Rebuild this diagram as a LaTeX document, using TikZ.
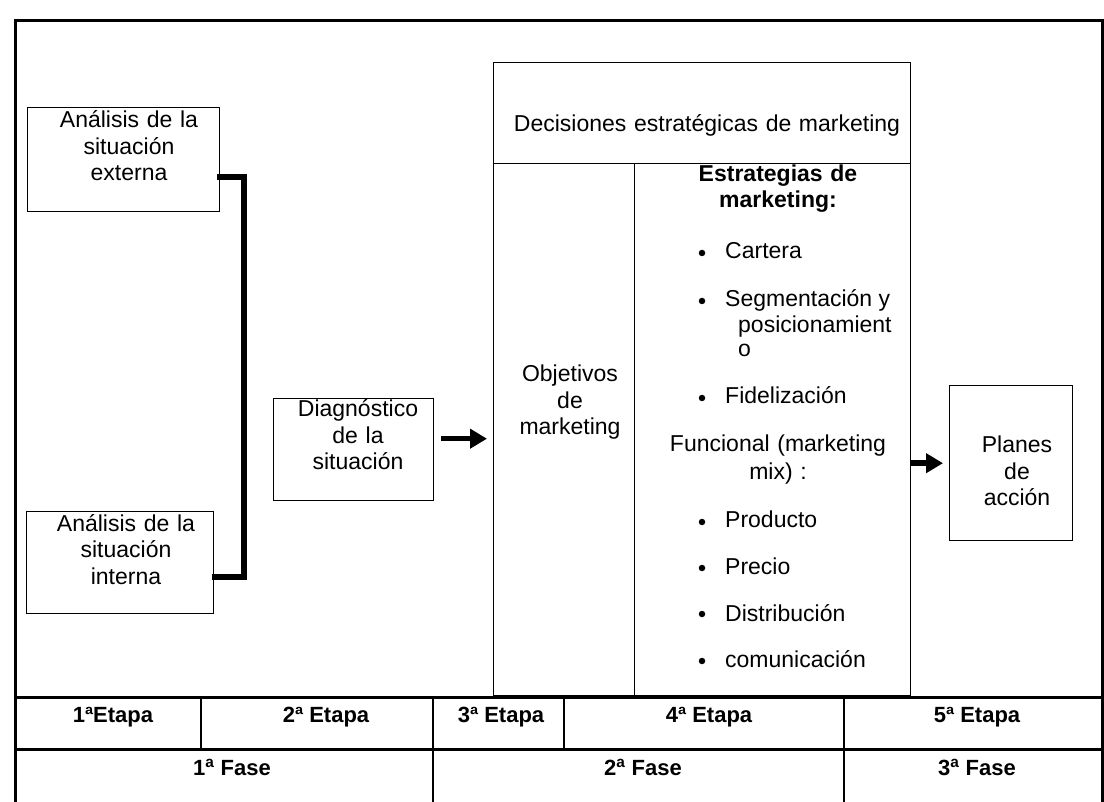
\documentclass[tikz,border=0pt]{standalone}
\usepackage{fontspec}
\setmainfont{Liberation Sans}
\usetikzlibrary{arrows.meta,calc}
\begin{document}
\begin{tikzpicture}[x=1pt,y=-1pt,
  box/.style={draw, line width=1.4pt, inner sep=0pt, anchor=north west},
  txt/.style={font=\fontsize{23}{26.5}\selectfont, align=center, text width=260pt, inner sep=0pt, anchor=base},
  itm/.style={font=\fontsize{23}{26}\selectfont, inner sep=0pt, anchor=base west},
  bul/.style={circle, fill, inner sep=0pt, minimum size=6.5pt},
  cell/.style={font=\bfseries\fontsize{22}{25}\selectfont, inner sep=0pt, anchor=base},
  bigarrow/.style={line width=5.5pt, -{Triangle[length=17pt,width=19pt]}},
  bracket/.style={line width=6pt, line join=miter, line cap=butt},
  frame/.style={line width=3pt},
  rule/.style={line width=3pt},
  sep/.style={line width=1.8pt}]
\useasboundingbox (0,0) rectangle (1104,802);
\clip (0,0) rectangle (1104,802);

% outer frame
\draw[frame] (15,820) -- (15,21) -- (1102,21) -- (1102,820);

% boxes
\node[box, minimum width=192pt, minimum height=104pt] (ext) at (27,107) {};
\node[box, minimum width=187pt, minimum height=102pt] (int) at (26,511) {};
\node[box, minimum width=160pt, minimum height=102pt] (diag) at (273,398) {};
\node[box, minimum width=417pt, minimum height=101pt] (dec) at (493,62) {};
\node[box, minimum width=141pt, minimum height=532pt] (obj) at (493,163) {};
\node[box, minimum width=276pt, minimum height=532pt] (strat) at (634,163) {};
\node[box, minimum width=123pt, minimum height=155pt] (plan) at (949,385) {};

% box texts
\node[txt] (extT) at (129,128) {Análisis de la\\situación\\externa};
\node[txt] (intT) at (126,531) {Análisis de la\\situación\\interna};
\node[txt] (diagT) at (358,417) {Diagnóstico\\de la\\situación};
\node[txt, text width=430pt] (decT) at (707,132) {Decisiones estratégicas de marketing};
\node[txt] (objT) at (570,382) {Objetivos\\de\\marketing};
\node[txt, font=\bfseries\fontsize{23}{26}\selectfont] (estT) at (778,182) {Estrategias de\\marketing:};
\node[txt, text width=260pt, font=\fontsize{23}{28}\selectfont] (funT) at (778,452) {Funcional (marketing\\mix) :};
\node[txt] (planT) at (1017,453) {Planes\\de\\acción};

% bullet items
\node[bul] (b1) at (702,253) {};
\node[itm] (i1) at (725,259) {Cartera};
\node[bul] (b2) at (702,301) {};
\node[itm] (i2) at (725,307) {Segmentación y};
\node[itm] (i2b) at (738,333) {posicionamient};
\node[itm] (i2c) at (738,357) {o};
\node[bul] (b3) at (702,398) {};
\node[itm] (i3) at (725,404) {Fidelización};
\node[bul] (b4) at (702,522) {};
\node[itm] (i4) at (725,527) {Producto};
\node[bul] (b5) at (702,568) {};
\node[itm] (i5) at (725,574) {Precio};
\node[bul] (b6) at (702,614) {};
\node[itm] (i6) at (725,621) {Distribución};
\node[bul] (b7) at (702,661) {};
\node[itm] (i7) at (725,667) {comunicación};

% bracket connector
\draw[bracket] ([xshift=-3pt,yshift=-17pt]ext.east) -- ++(27,0) |- ([xshift=-2pt,yshift=-14pt]int.east);

% arrows
\coordinate (a1) at ($(diag.east)+(0,-11)$);
\draw[bigarrow, shorten <=7pt, shorten >=6pt] (a1) -- (a1 -| obj.west);
\draw[bigarrow, shorten >=6pt] (strat.east |- plan.west) -- (plan.west);

% bottom table
\draw[rule] (15,697) -- (1102,697);
\draw[rule] (15,749) -- (1102,749);
\draw[sep] (201,697) -- (201,749);
\draw[sep] (433,697) -- (433,820);
\draw[sep] (564,697) -- (564,749);
\draw[sep] (844,697) -- (844,820);

\node[cell] (e1) at (113,722) {1ªEtapa};
\node[cell] (e2) at (326,722) {2ª Etapa};
\node[cell] (e3) at (501,722) {3ª Etapa};
\node[cell] (e4) at (709,722) {4ª Etapa};
\node[cell] (e5) at (977,722) {5ª Etapa};
\node[cell] (f1) at (232,775) {1\textsuperscript{a} Fase};
\node[cell] (f2) at (643,775) {2\textsuperscript{a} Fase};
\node[cell] (f3) at (977,775) {3\textsuperscript{a} Fase};
\end{tikzpicture}
\end{document}
